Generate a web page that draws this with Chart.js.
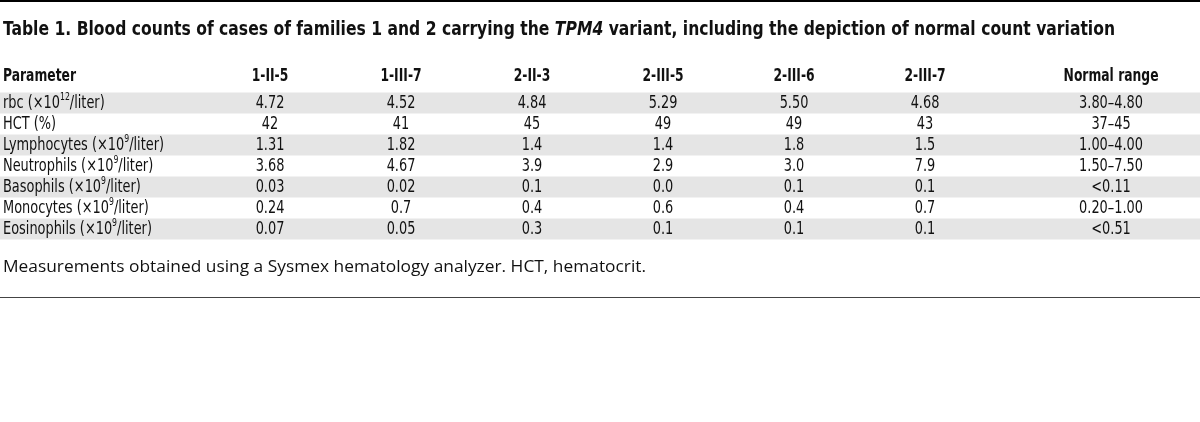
<!DOCTYPE html>
<html lang="en">
<head>
<meta charset="UTF-8" />
<title>Table 1 - Blood counts, TPM4 variant</title>
<script src="https://cdn.jsdelivr.net/npm/chart.js"></script>
<style>
  html, body { margin: 0; padding: 0; background: #fff; }
  #wrap { width: 1200px; height: 422px; }
</style>
</head>
<body>
<div id="wrap"><canvas id="tableChart" width="1200" height="422"></canvas></div>
<script>
// ---- table content ----
const titleParts = [
  { text: 'Table 1. Blood counts of cases of families 1 and 2 carrying the ', italic: false },
  { text: 'TPM4', italic: true },
  { text: ' variant, including the depiction of normal count variation', italic: false }
];
const footnote = 'Measurements obtained using a Sysmex hematology analyzer. HCT, hematocrit.';

const paramHeader = 'Parameter';
const caseIds = ['1-II-5', '1-III-7', '2-II-3', '2-III-5', '2-III-6', '2-III-7'];
const rangeHeader = 'Normal range';

const parameters = [
  'rbc (×10^{12}/liter)',
  'HCT (%)',
  'Lymphocytes (×10^{9}/liter)',
  'Neutrophils (×10^{9}/liter)',
  'Basophils (×10^{9}/liter)',
  'Monocytes (×10^{9}/liter)',
  'Eosinophils (×10^{9}/liter)'
];

const case1_II_5  = ['4.72', '42', '1.31', '3.68', '0.03', '0.24', '0.07'];
const case1_III_7 = ['4.52', '41', '1.82', '4.67', '0.02', '0.7',  '0.05'];
const case2_II_3  = ['4.84', '45', '1.4',  '3.9',  '0.1',  '0.4',  '0.3'];
const case2_III_5 = ['5.29', '49', '1.4',  '2.9',  '0.0',  '0.6',  '0.1'];
const case2_III_6 = ['5.50', '49', '1.8',  '3.0',  '0.1',  '0.4',  '0.1'];
const case2_III_7 = ['4.68', '43', '1.5',  '7.9',  '0.1',  '0.7',  '0.1'];
const normalRange = ['3.80–4.80', '37–45', '1.00–4.00', '1.50–7.50', '<0.11', '0.20–1.00', '<0.51'];

// ---- layout in scale units (x: column slots, y: row slots) ----
const paramCol = -1.038;
const rangeCol = 7.42;
const headerRow = -1.29;
const titleRow = -3.48;
const footRow = 7.81;
const bottomRuleRow = 9.24;

const condensed = "'Liberation Sans Narrow', 'DejaVu Sans Condensed', Roboto, sans-serif";
const footFontFamily = "'Open Sans', 'DejaVu Sans', sans-serif";
const textColor = '#111';
const shadeColor = '#e5e5e5';

const caseColumns = [case1_II_5, case1_III_7, case2_II_3, case2_III_5, case2_III_6, case2_III_7];

function cellPoints(xKey, values) {
  return values.map((v, i) => ({ x: xKey, y: i, label: v }));
}

const datasets = [];
// header row
datasets.push({
  role: 'header', align: 'left',
  data: [{ x: paramCol, y: headerRow, label: paramHeader }]
});
datasets.push({
  role: 'header', align: 'center',
  data: caseIds.map((id, i) => ({ x: i + 1, y: headerRow, label: id }))
    .concat([{ x: rangeCol, y: headerRow, label: rangeHeader }])
});
// body
datasets.push({ role: 'body', align: 'left', data: cellPoints(paramCol, parameters) });
caseColumns.forEach((col, i) => {
  datasets.push({ role: 'body', align: 'center', data: cellPoints(i + 1, col) });
});
datasets.push({ role: 'body', align: 'center', data: cellPoints(rangeCol, normalRange) });

datasets.forEach(d => { d.pointRadius = 0; d.showLine = false; });

// ---- rich text helpers (superscripts, italics) ----
function splitSup(str) {
  const out = [];
  const re = /\^\{(.*?)\}/g;
  let last = 0, m;
  while ((m = re.exec(str)) !== null) {
    if (m.index > last) out.push({ text: str.slice(last, m.index), sup: false });
    out.push({ text: m[1], sup: true });
    last = re.lastIndex;
  }
  if (last < str.length) out.push({ text: str.slice(last), sup: false });
  return out;
}

function segFont(seg, size, weight, family) {
  const s = seg.sup ? size * 0.6 : size;
  return (seg.italic ? 'italic ' : '') + weight + ' ' + s + 'px ' + family;
}

function richWidth(ctx, segs, size, weight, family) {
  let w = 0;
  segs.forEach(seg => {
    ctx.font = segFont(seg, size, weight, family);
    w += ctx.measureText(seg.text).width;
  });
  return w;
}

function drawRich(ctx, segs, x, y, align, size, weight, family, squeeze) {
  const w = richWidth(ctx, segs, size, weight, family);
  ctx.save();
  ctx.translate(x, y);
  ctx.scale(squeeze, 1);
  let cx = align === 'center' ? -w / 2 : 0;
  ctx.textAlign = 'left';
  ctx.textBaseline = 'middle';
  ctx.fillStyle = textColor;
  segs.forEach(seg => {
    ctx.font = segFont(seg, size, weight, family);
    ctx.fillText(seg.text, cx, seg.sup ? -size * 0.3 : 0);
    cx += ctx.measureText(seg.text).width;
  });
  ctx.restore();
}

const bodySize = 17.5, headSize = 18, titleSize = 20, footSize = 17;

const tablePlugin = {
  id: 'tableCells',
  beforeDatasetsDraw(chart) {
    const { ctx, scales: { y }, chartArea } = chart;
    ctx.save();
    ctx.fillStyle = shadeColor;
    parameters.forEach((p, i) => {
      if (i % 2 !== 0) return;
      const top = y.getPixelForValue(i - 0.5);
      const bot = y.getPixelForValue(i + 0.5);
      ctx.fillRect(chartArea.left, top, chartArea.right - chartArea.left, bot - top);
    });
    // top rule
    ctx.fillStyle = '#000';
    ctx.fillRect(chartArea.left, 0, chartArea.right - chartArea.left, 2);
    // bottom rule
    ctx.fillStyle = '#444';
    ctx.fillRect(chartArea.left, Math.round(y.getPixelForValue(bottomRuleRow)), chartArea.right - chartArea.left, 1);
    ctx.restore();
  },
  afterDatasetsDraw(chart) {
    const { ctx, scales: { x, y } } = chart;
    // horizontal squeeze so the condensed faces keep the printed widths
    const bodySq = 161 / richWidth(ctx, splitSup('Lymphocytes (×10^{9}/liter)'), bodySize, 'normal', condensed);
    const headSq = 73 / richWidth(ctx, [{ text: paramHeader }], headSize, 'bold', condensed);

    chart.data.datasets.forEach((ds, di) => {
      const meta = chart.getDatasetMeta(di);
      const bold = ds.role === 'header';
      meta.data.forEach((el, i) => {
        const segs = splitSup(ds.data[i].label);
        drawRich(ctx, segs, el.x, el.y, ds.align, bold ? headSize : bodySize,
          bold ? 'bold' : 'normal', condensed, bold ? headSq : bodySq);
      });
    });

    // title
    const tx = x.getPixelForValue(paramCol);
    const titleSq = 1112 / richWidth(ctx, titleParts, titleSize, 'bold', condensed);
    drawRich(ctx, titleParts, tx, y.getPixelForValue(titleRow), 'left', titleSize, 'bold', condensed, titleSq);

    // footnote
    const footSegs = [{ text: footnote }];
    const footSq = 643 / richWidth(ctx, footSegs, footSize, 'normal', footFontFamily);
    drawRich(ctx, footSegs, tx, y.getPixelForValue(footRow), 'left', footSize, 'normal', footFontFamily, footSq);
  }
};

new Chart(document.getElementById('tableChart'), {
  type: 'scatter',
  data: { datasets: datasets },
  options: {
    responsive: false,
    animation: false,
    events: [],
    layout: { padding: 0 },
    scales: {
      x: { type: 'linear', display: false, min: -1.061, max: 8.099 },
      y: { type: 'linear', display: false, reverse: true, min: -4.905, max: 15.19 }
    },
    plugins: {
      legend: { display: false },
      tooltip: { enabled: false }
    }
  },
  plugins: [tablePlugin]
});
</script>
</body>
</html>
